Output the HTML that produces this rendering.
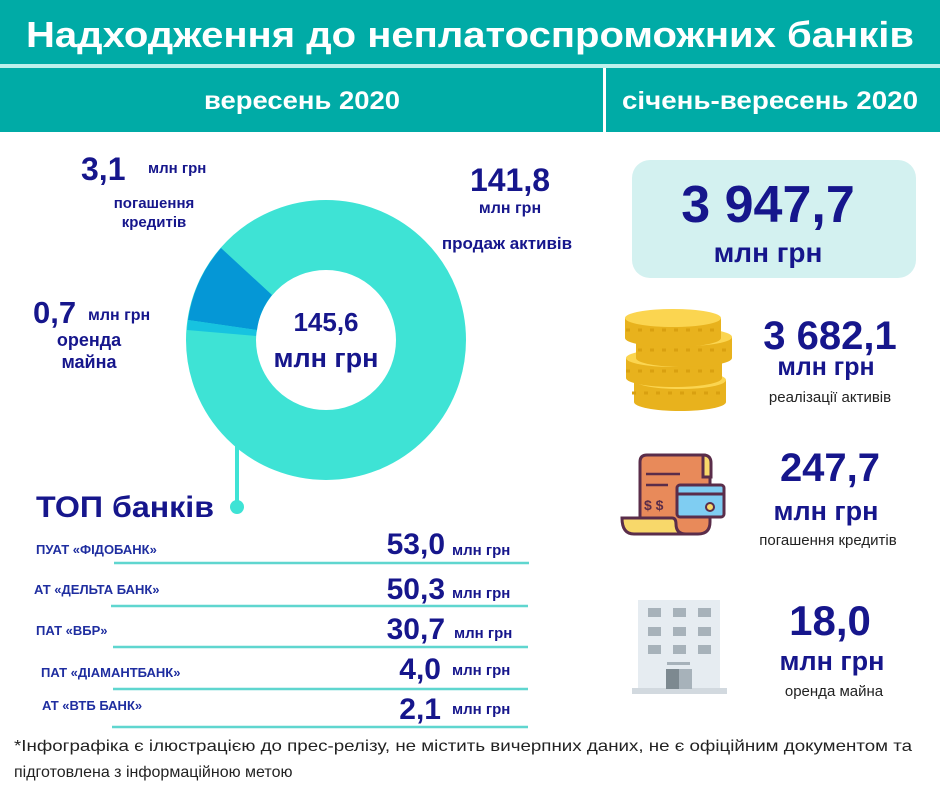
<!DOCTYPE html>
<html><head><meta charset="utf-8"><style>
html,body{margin:0;padding:0;background:#fff;}
svg{display:block;font-family:"Liberation Sans",sans-serif;}
.n{fill:#16168c;font-weight:bold;}
</style></head><body>
<svg width="940" height="788" viewBox="0 0 940 788" xmlns="http://www.w3.org/2000/svg">
<rect x="0" y="0" width="940" height="64" fill="#00aba6"/>
<rect x="0" y="64" width="940" height="4" fill="#bdf0ec"/>
<rect x="0" y="68" width="940" height="64" fill="#00aba6"/>
<rect x="603" y="68" width="3" height="64" fill="#ffffff"/>
<text x="470" y="47" text-anchor="middle" fill="#fff" font-weight="bold" font-size="36" textLength="888" lengthAdjust="spacingAndGlyphs">Надходження до неплатоспроможних банків</text>
<text x="302" y="109" text-anchor="middle" fill="#fff" font-weight="bold" font-size="25" textLength="196" lengthAdjust="spacingAndGlyphs">вересень 2020</text>
<text x="770" y="109" text-anchor="middle" fill="#fff" font-weight="bold" font-size="25" textLength="296" lengthAdjust="spacingAndGlyphs">січень-вересень 2020</text>

<circle cx="326" cy="340" r="105" fill="none" stroke="#3ee3d5" stroke-width="70"/>
<path d="M221,248 A140,140 0 0 0 188,320 L257,330 A70,70 0 0 1 272,295 Z" fill="#0597d6"/>
<path d="M188,320 A140,140 0 0 0 187,330 L256,336 A70,70 0 0 1 257,330 Z" fill="#17c3e0"/>
<line x1="237" y1="445" x2="237" y2="505" stroke="#3ee3d5" stroke-width="4"/>
<circle cx="237" cy="507" r="7" fill="#3ee3d5"/>
<text x="326" y="331" text-anchor="middle" class="n" font-size="26">145,6</text>
<text x="326" y="367" text-anchor="middle" class="n" font-size="27">млн грн</text>

<text x="81" y="180" class="n" font-size="32">3,1</text>
<text x="148" y="173" class="n" font-size="15">млн грн</text>
<text x="154" y="208" text-anchor="middle" class="n" font-size="15">погашення</text>
<text x="154" y="227" text-anchor="middle" class="n" font-size="15">кредитів</text>
<text x="510" y="191" text-anchor="middle" class="n" font-size="32">141,8</text>
<text x="510" y="213" text-anchor="middle" class="n" font-size="16">млн грн</text>
<text x="507" y="249" text-anchor="middle" class="n" font-size="17">продаж активів</text>
<text x="33" y="323" class="n" font-size="31">0,7</text>
<text x="88" y="320" class="n" font-size="16">млн грн</text>
<text x="89" y="346" text-anchor="middle" class="n" font-size="18">оренда</text>
<text x="89" y="368" text-anchor="middle" class="n" font-size="18">майна</text>

<text x="36" y="517" class="n" font-size="30" textLength="178" lengthAdjust="spacingAndGlyphs">ТОП банків</text>

<g stroke="#5fd6cf" stroke-width="2.5">
<line x1="114" y1="563" x2="529" y2="563"/>
<line x1="111" y1="606" x2="528" y2="606"/>
<line x1="113" y1="647" x2="528" y2="647"/>
<line x1="113" y1="689" x2="528" y2="689"/>
<line x1="112" y1="727" x2="528" y2="727"/>
</g>
<g fill="#1f2ea0" font-weight="bold" font-size="13">
<text x="36" y="554">ПУАТ «ФІДОБАНК»</text>
<text x="34" y="594">АТ «ДЕЛЬТА БАНК»</text>
<text x="36" y="635">ПАТ «ВБР»</text>
<text x="41" y="677">ПАТ «ДІАМАНТБАНК»</text>
<text x="42" y="710">АТ «ВТБ БАНК»</text>
</g>
<g class="n">
<text x="445" y="554" text-anchor="end" font-size="30">53,0</text>
<text x="445" y="599" text-anchor="end" font-size="30">50,3</text>
<text x="445" y="639" text-anchor="end" font-size="30">30,7</text>
<text x="441" y="679" text-anchor="end" font-size="30">4,0</text>
<text x="441" y="719" text-anchor="end" font-size="30">2,1</text>
<text x="452" y="555" font-size="15">млн грн</text>
<text x="452" y="598" font-size="15">млн грн</text>
<text x="454" y="638" font-size="15">млн грн</text>
<text x="452" y="675" font-size="15">млн грн</text>
<text x="452" y="714" font-size="15">млн грн</text>
</g>
<text x="14" y="751" fill="#222" font-size="16" textLength="898" lengthAdjust="spacingAndGlyphs">*Інфографіка є ілюстрацією до прес-релізу, не містить вичерпних даних, не є офіційним документом та</text>
<text x="14" y="777" fill="#222" font-size="16">підготовлена з інформаційною метою</text>

<rect x="632" y="160" width="284" height="118" rx="18" fill="#d3f1f0"/>
<text x="768" y="222" text-anchor="middle" class="n" font-size="52">3 947,7</text>
<text x="768" y="262" text-anchor="middle" class="n" font-size="28">млн грн</text>

<g>
<rect x="634" y="380" width="92" height="22" fill="#e8b21d"/><ellipse cx="680" cy="402" rx="46" ry="9" fill="#e8b21d"/><ellipse cx="680" cy="380" rx="46" ry="9" fill="#fbd550"/>
<rect x="626" y="358" width="96" height="20" fill="#e8b21d"/><ellipse cx="674" cy="378" rx="48" ry="9" fill="#e8b21d"/><ellipse cx="674" cy="358" rx="48" ry="9" fill="#fbd550"/>
<rect x="636" y="337" width="96" height="21" fill="#e8b21d"/><ellipse cx="684" cy="358" rx="48" ry="9" fill="#e8b21d"/><ellipse cx="684" cy="337" rx="48" ry="9" fill="#fbd550"/>
<rect x="625" y="318" width="96" height="20" fill="#e8b21d"/><ellipse cx="673" cy="338" rx="48" ry="9" fill="#e8b21d"/><ellipse cx="673" cy="318" rx="48" ry="9" fill="#fbd550"/>
</g>
<g stroke="#d9a010" stroke-width="3" stroke-dasharray="4 8">
<line x1="632" y1="393" x2="726" y2="393"/>
<line x1="626" y1="371" x2="722" y2="371"/>
<line x1="638" y1="350" x2="732" y2="350"/>
<line x1="626" y1="330" x2="720" y2="330"/>
</g>
<text x="830" y="349" text-anchor="middle" class="n" font-size="40">3 682,1</text>
<text x="826" y="375" text-anchor="middle" class="n" font-size="25">млн грн</text>
<text x="830" y="402" text-anchor="middle" fill="#222" font-size="15">реалізації активів</text>

<g stroke="#5a2d4a" stroke-width="3">
<path d="M640,462 q0,-7 7,-7 h56 q7,0 7,7 v60 q0,12 -12,12 h-40 q-18,0 -18,-18 Z" fill="#e88a5a"/>
<path d="M703,455 q8,0 8,8 v14 h-8 Z" fill="#f8d86a"/>
<path d="M622,518 h50 q4,0 4,6 q0,10 10,10 h-52 q-12,0 -12,-16 Z" fill="#f8d86a"/>
<rect x="677" y="485" width="47" height="32" rx="3" fill="#7fcdf2"/>
<line x1="677" y1="494" x2="724" y2="494"/>
</g>
<g stroke="#5a2d4a" stroke-width="2.5"><line x1="646" y1="474" x2="680" y2="474"/><line x1="646" y1="485" x2="668" y2="485"/></g>
<text x="644" y="510" fill="#5a2d4a" font-weight="bold" font-size="14">$ $</text>
<circle cx="710" cy="507" r="4" fill="#f8d86a" stroke="#5a2d4a" stroke-width="2"/>
<text x="830" y="481" text-anchor="middle" class="n" font-size="40">247,7</text>
<text x="826" y="520" text-anchor="middle" class="n" font-size="27">млн грн</text>
<text x="828" y="545" text-anchor="middle" fill="#222" font-size="15">погашення кредитів</text>

<rect x="638" y="600" width="82" height="90" fill="#e6ecf1"/>
<rect x="632" y="688" width="95" height="6" fill="#d2d9df"/>
<g fill="#a7b2ba">
<rect x="648" y="608" width="13" height="9"/><rect x="673" y="608" width="13" height="9"/><rect x="698" y="608" width="13" height="9"/>
<rect x="648" y="627" width="13" height="9"/><rect x="673" y="627" width="13" height="9"/><rect x="698" y="627" width="13" height="9"/>
<rect x="648" y="645" width="13" height="9"/><rect x="673" y="645" width="13" height="9"/><rect x="698" y="645" width="13" height="9"/>
<rect x="667" y="662" width="23" height="3"/>
</g>
<rect x="666" y="669" width="13" height="20" fill="#7d8990"/><rect x="679" y="669" width="13" height="20" fill="#a7b2ba"/>
<text x="830" y="635" text-anchor="middle" class="n" font-size="42">18,0</text>
<text x="832" y="670" text-anchor="middle" class="n" font-size="27">млн грн</text>
<text x="834" y="696" text-anchor="middle" fill="#222" font-size="15">оренда майна</text>
</svg>
</body></html>
